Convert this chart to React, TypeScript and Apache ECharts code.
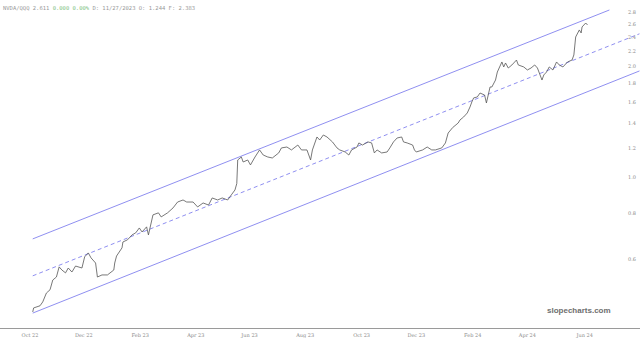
import React, { useEffect, useRef } from "react";
import * as echarts from "echarts";

const dates = [
  "2022-10-06","2022-10-07","2022-10-14","2022-10-17","2022-10-21","2022-10-25","2022-10-28","2022-11-01","2022-11-04","2022-11-07",
  "2022-11-11","2022-11-14","2022-11-18","2022-11-22","2022-11-29","2022-12-02","2022-12-06","2022-12-09","2022-12-14","2022-12-16",
  "2022-12-21","2022-12-27","2023-01-03","2023-01-04","2023-01-06","2023-01-12","2023-01-13","2023-01-18","2023-01-23","2023-01-27",
  "2023-01-31","2023-02-03","2023-02-08","2023-02-10","2023-02-15","2023-02-21","2023-02-24","2023-03-03","2023-03-09","2023-03-14",
  "2023-03-20","2023-03-24","2023-03-31","2023-04-05","2023-04-11","2023-04-17","2023-04-21","2023-04-27","2023-05-02","2023-05-08",
  "2023-05-12","2023-05-16","2023-05-18","2023-05-19","2023-05-23","2023-05-25","2023-05-30","2023-06-02","2023-06-07","2023-06-12",
  "2023-06-16","2023-06-21","2023-06-26","2023-07-03","2023-07-06","2023-07-12","2023-07-17","2023-07-24","2023-07-28","2023-08-03",
  "2023-08-07","2023-08-09","2023-08-14","2023-08-17","2023-08-21","2023-08-25","2023-08-31","2023-09-05","2023-09-08","2023-09-14",
  "2023-09-18","2023-09-21","2023-09-27","2023-09-29","2023-10-03","2023-10-09","2023-10-13","2023-10-16","2023-10-19","2023-10-24",
  "2023-10-30","2023-11-02","2023-11-06","2023-11-10","2023-11-15","2023-11-17","2023-11-21","2023-11-27","2023-11-29","2023-12-01",
  "2023-12-08","2023-12-13","2023-12-18","2023-12-22","2023-12-29","2024-01-02","2024-01-05","2024-01-10","2024-01-16","2024-01-18",
  "2024-01-22","2024-01-26","2024-01-29","2024-01-31","2024-02-02","2024-02-06","2024-02-09","2024-02-14","2024-02-16","2024-02-20",
  "2024-02-22","2024-02-26","2024-02-28","2024-03-04","2024-03-06","2024-03-08","2024-03-11","2024-03-15","2024-03-20","2024-03-22",
  "2024-03-28","2024-04-01","2024-04-05","2024-04-09","2024-04-12","2024-04-17","2024-04-19","2024-04-22","2024-04-25","2024-04-29",
  "2024-05-03","2024-05-06","2024-05-10","2024-05-15","2024-05-20","2024-05-22","2024-05-24","2024-05-28","2024-05-30","2024-05-31",
  "2024-06-04","2024-06-06"
];

const values = [
  0.430,0.441,0.447,0.458,0.484,0.494,0.525,0.535,0.570,0.559,
  0.549,0.566,0.552,0.573,0.566,0.607,0.622,0.603,0.584,0.535,
  0.542,0.542,0.559,0.584,0.610,0.642,0.666,0.675,0.696,0.705,
  0.727,0.709,0.732,0.696,0.789,0.799,0.779,0.799,0.824,0.855,
  0.866,0.855,0.855,0.829,0.850,0.839,0.877,0.866,0.877,0.866,
  0.894,0.922,0.960,1.112,1.133,1.098,1.112,1.078,1.133,1.184,
  1.147,1.133,1.126,1.162,1.199,1.206,1.184,1.221,1.184,1.184,
  1.112,1.184,1.284,1.260,1.300,1.284,1.245,1.199,1.184,1.169,
  1.147,1.184,1.206,1.237,1.221,1.245,1.237,1.162,1.184,1.162,
  1.169,1.199,1.245,1.276,1.284,1.245,1.237,1.221,1.184,1.169,
  1.184,1.206,1.184,1.184,1.199,1.237,1.316,1.362,1.401,1.428,
  1.455,1.492,1.549,1.598,1.639,1.649,1.690,1.669,1.588,1.755,
  1.755,1.833,1.927,2.052,1.989,2.039,1.976,2.014,2.077,2.014,
  1.989,1.952,1.976,2.014,1.976,1.833,1.892,1.927,1.989,1.952,
  2.052,2.014,1.989,2.052,2.077,2.144,2.399,2.507,2.460,2.554,
  2.618,2.586
];

const upperChannel: [string, number][] = [["2022-10-06", 0.679], ["2024-06-30", 2.84]];
const midChannel: [string, number][] = [["2022-10-06", 0.539], ["2024-08-02", 2.447]];
const lowerChannel: [string, number][] = [["2022-10-06", 0.427], ["2024-08-02", 1.94]];

const yTicks = [0.6, 0.8, 1.0, 1.2, 1.4, 1.6, 1.8, 2.0, 2.2, 2.4, 2.6, 2.8];
const xTickDates = [
  "2022-10-03","2022-12-01","2023-02-01","2023-04-03","2023-06-01","2023-08-01",
  "2023-10-02","2023-12-01","2024-02-01","2024-04-01","2024-06-03"
];
const xTickLabels = [
  "Oct 22","Dec 22","Feb 23","Apr 23","Jun 23","Aug 23",
  "Oct 23","Dec 23","Feb 24","Apr 24","Jun 24"
];

const headerName = "NVDA/QQQ 2.611";
const headerChange = "0.000 0.00%";
const headerRest = "D: 11/27/2023 O: 1.244 F: 2.383";

const DAY = 86400000;

export default function App() {
  const ref = useRef<HTMLDivElement>(null);
  useEffect(() => {
    if (!ref.current) return;
    const chart = echarts.init(ref.current, undefined, { renderer: "svg" });
    const ts = (d: string) => Date.parse(d);
    const base = ts("2022-10-03");
    const xMin = base - 32.93 * DAY;
    const xMax = base + 669.6 * DAY;
    const tickTs = xTickDates.map(ts);
    const lineData = dates.map((d, i) => [ts(d), Math.log(values[i])]);
    const ch = (arr: [string, number][]) => arr.map(([d, v]) => [ts(d), Math.log(v)]);
    const channelColor = "#8282ee";

    chart.setOption({
      animation: false,
      backgroundColor: "#ffffff",
      grid: { left: 0, right: 0, top: 0, bottom: 14, containLabel: false },
      xAxis: {
        type: "value",
        min: xMin,
        max: xMax,
        splitLine: { show: false },
        axisLine: { show: true, onZero: false, lineStyle: { color: "#9a9a9a", width: 1 } },
        axisTick: { show: false },
        axisLabel: {
          customValues: tickTs,
          fontSize: 5,
          color: "#8a8a8a",
          fontFamily: "DejaVu Serif",
          margin: 4,
          formatter: (v: number) => {
            let best = 0;
            for (let i = 0; i < tickTs.length; i++) {
              if (Math.abs(tickTs[i] - v) < Math.abs(tickTs[best] - v)) best = i;
            }
            return xTickLabels[best];
          },
        },
      },
      yAxis: {
        type: "value",
        position: "right",
        min: Math.log(0.389),
        max: Math.log(3.023),
        splitLine: { show: false },
        axisLine: { show: false, onZero: false },
        axisTick: { show: false },
        axisLabel: {
          inside: true,
          customValues: yTicks.map((v) => Math.log(v)),
          fontSize: 5,
          color: "#8a8a8a",
          fontFamily: "DejaVu Serif",
          margin: 4,
          formatter: (v: number) => Math.exp(v).toFixed(1),
        },
      },
      graphic: [
        {
          type: "text",
          left: 3,
          top: 2,
          style: {
            text: `{a|${headerName}} {g|${headerChange}} {a|${headerRest}}`,
            rich: {
              a: { fontSize: 5.5, fontFamily: "DejaVu Sans Mono", fill: "#9a9a9a" },
              g: { fontSize: 5.5, fontFamily: "DejaVu Sans Mono", fill: "#7fc27f" },
            },
          },
        },
        {
          type: "text",
          left: 547,
          top: 306,
          style: {
            text: "slopecharts.com",
            fontSize: 8,
            fontWeight: "bold",
            fontFamily: "Liberation Sans",
            fill: "#6e6e6e",
          },
        },
      ],
      series: [
        {
          type: "line",
          data: ch(upperChannel),
          symbol: "none",
          lineStyle: { color: channelColor, width: 0.9 },
          silent: true,
        },
        {
          type: "line",
          data: ch(midChannel),
          symbol: "none",
          lineStyle: { color: channelColor, width: 0.9, type: [4, 3] },
          silent: true,
        },
        {
          type: "line",
          data: ch(lowerChannel),
          symbol: "none",
          lineStyle: { color: channelColor, width: 0.9 },
          silent: true,
        },
        {
          type: "line",
          data: lineData,
          symbol: "none",
          lineStyle: { color: "#555555", width: 0.8 },
          silent: true,
        },
      ],
    });
    return () => chart.dispose();
  }, []);
  return (
    <div
      ref={ref}
      style={{ position: "fixed", left: 0, top: 0, width: 640, height: 342, background: "#fff" }}
    />
  );
}
